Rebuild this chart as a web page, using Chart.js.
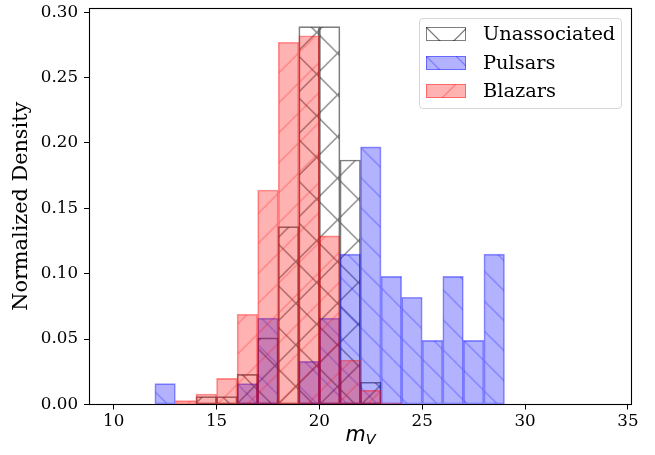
<!DOCTYPE html>
<html>
<head>
<meta charset="utf-8">
<script src="https://cdn.jsdelivr.net/npm/chart.js@4.4.1/dist/chart.umd.min.js"></script>
<style>
  body { margin: 0; background: #fff; }
  #wrap { position: relative; width: 655px; height: 455px; }
  #legend { position: absolute; left: 419px; top: 18px; width: 201px; height: 89px;
            border: 1px solid #d6d6d6; border-radius: 4px; background: rgba(255,255,255,0.8);
            font-family: 'DejaVu Serif', serif; font-size: 19.4px; color: #000; }
  .row { position: absolute; left: 6px; width: 190px; height: 14px; }
  .row canvas { position: absolute; left: 0; top: 0; }
  .row span { position: absolute; left: 57px; top: -5px; line-height: 24px; white-space: nowrap; }
  #xlabel { position: absolute; left: 300px; width: 121px; top: 422px; text-align: center;
            font-family: 'DejaVu Sans', sans-serif; font-style: italic; font-size: 20.8px; line-height: 24px; }
  #xlabel sub { font-size: 14.5px; position: relative; top: 3px; vertical-align: baseline; }
</style>
</head>
<body>
<div id="wrap">
  <canvas id="c" width="655" height="455"></canvas>
  <div id="legend">
    <div class="row" style="top:8px"><canvas id="lg0" width="40" height="14"></canvas><span>Unassociated</span></div>
    <div class="row" style="top:36.5px"><canvas id="lg1" width="40" height="14"></canvas><span>Pulsars</span></div>
    <div class="row" style="top:64.5px"><canvas id="lg2" width="40" height="14"></canvas><span>Blazars</span></div>
  </div>
  <div id="xlabel">m<sub>V</sub></div>
</div>
<script>
// histogram bins (lower edge, width 1 mag)
var binStart = [12, 13, 14, 15, 16, 17, 18, 19, 20, 21, 22, 23, 24, 25, 26, 27, 28];
var unassociated = [null, null, 0.006, 0.006, 0.023, 0.051, 0.136, 0.289, 0.289, 0.187, 0.017, null, null, null, null, null, null];
var pulsars      = [0.016, null, null, null, 0.016, 0.066, null, 0.033, 0.066, 0.115, 0.197, 0.098, 0.082, 0.049, 0.098, 0.049, 0.115];
var blazars      = [null, 0.003, 0.008, 0.020, 0.069, 0.164, 0.277, 0.282, 0.129, 0.034, 0.011, 0.0013, null, null, null, null, null];
var seriesNames  = ['Unassociated', 'Pulsars', 'Blazars'];
var xTicks = [10, 15, 20, 25, 30, 35];
var yTicks = [0, 0.05, 0.10, 0.15, 0.20, 0.25, 0.30];

// hatch tile: kind '/', '\\' or 'x', period p px
function makeHatch(ctx, kind, size, p, fill, line, tx, ty) {
    var c = document.createElement('canvas');
    c.width = size; c.height = size;
    var g = c.getContext('2d');
    if (fill) { g.fillStyle = fill; g.fillRect(0, 0, size, size); }
    g.strokeStyle = line;
    g.lineWidth = 1.3;
    g.beginPath();
    var n = Math.round(size / p);
    for (var k = -n - 1; k <= n + 1; k++) {
        if (kind === '/' || kind === 'x') { g.moveTo(k * p, size); g.lineTo(k * p + size, 0); }
        if (kind === '\\' || kind === 'x') { g.moveTo(k * p, 0); g.lineTo(k * p + size, size); }
    }
    g.stroke();
    var pat = ctx.createPattern(c, 'repeat');
    if (tx || ty) pat.setTransform(new DOMMatrix([1, 0, 0, 1, tx || 0, ty || 0]));
    return pat;
}

var styles = [
    { kind: 'x',  size: 125, p: 125 / 3, fill: null, line: 'rgba(0,0,0,0.5)', edge: 'rgba(0,0,0,0.5)', tx: 25, ty: -9.3 },
    { kind: '\\', size: 30, p: 30, fill: 'rgba(0,0,255,0.3)', line: 'rgba(0,0,255,0.3)', edge: 'rgba(0,0,255,0.42)', tx: 3.3, ty: 0 },
    { kind: '/',  size: 30, p: 30, fill: 'rgba(255,0,0,0.3)', line: 'rgba(255,0,0,0.3)', edge: 'rgba(255,0,0,0.42)', tx: 21.6, ty: 0 }
];

function toPoints(vals) {
    var pts = [];
    binStart.forEach(function (b, i) {
        if (vals[i] !== null) pts.push({ x: b + 0.5, y: vals[i] });
    });
    return pts;
}

var canvas = document.getElementById('c');
var ctx = canvas.getContext('2d');
var allSeries = [unassociated, pulsars, blazars];

var datasets = allSeries.map(function (vals, i) {
    var s = styles[i];
    return {
        label: seriesNames[i],
        data: toPoints(vals),
        backgroundColor: makeHatch(ctx, s.kind, s.size, s.p, s.fill, s.line, s.tx, s.ty),
        borderColor: s.edge,
        borderWidth: 1,
        borderSkipped: false,
        grouped: false,
        barPercentage: 1.0,
        categoryPercentage: 1.0,
        order: 3 - i
    };
});

// legend swatches
styles.forEach(function (s, i) {
    var lc = document.getElementById('lg' + i);
    var lx = lc.getContext('2d');
    lx.fillStyle = makeHatch(lx, s.kind, s.size, s.p, s.fill, s.line, 0, 0);
    lx.fillRect(0, 0, 40, 14);
    lx.strokeStyle = s.edge;
    lx.lineWidth = 1;
    lx.strokeRect(0.5, 0.5, 39, 13);
});

var framePlugin = {
    id: 'frame',
    afterDraw: function (chart) {
        var a = chart.chartArea, g = chart.ctx;
        g.save();
        g.strokeStyle = '#000';
        g.lineWidth = 1.1;
        g.strokeRect(Math.floor(a.left) + 0.5, Math.floor(a.top) + 0.5,
                     Math.floor(a.right) - Math.floor(a.left) - 1, Math.floor(a.bottom) - Math.floor(a.top));
        g.restore();
    }
};

Chart.defaults.font.family = "'DejaVu Serif', serif";
Chart.defaults.font.size = 16.7;
Chart.defaults.color = '#000';

new Chart(ctx, {
    type: 'bar',
    data: { datasets: datasets },
    plugins: [framePlugin],
    options: {
        responsive: false,
        animation: false,
        devicePixelRatio: 1,
        layout: { padding: { left: 0, right: 23, top: 8, bottom: 0 } },
        plugins: { legend: { display: false }, tooltip: { enabled: false } },
        scales: {
            x: {
                type: 'linear',
                min: 8.8,
                max: 35.2,
                offset: false,
                border: { display: false },
                grid: { display: true, drawOnChartArea: false, drawTicks: true, tickLength: 5,
                        color: '#000', tickColor: '#000', tickWidth: 1, offset: false },
                ticks: { padding: 2, color: '#000', maxRotation: 0,
                         callback: function (v) { return String(v); } },
                afterBuildTicks: function (s) { s.ticks = xTicks.map(function (v) { return { value: v }; }); },
                afterFit: function (s) { s.height = 50.5; s.paddingLeft = 0; s.paddingRight = 0; }
            },
            y: {
                min: 0,
                max: 0.3032,
                border: { display: false },
                grid: { display: true, drawOnChartArea: false, drawTicks: true, tickLength: 5,
                        color: '#000', tickColor: '#000', tickWidth: 1 },
                ticks: { padding: 6, color: '#000',
                         callback: function (v) { return v.toFixed(2); } },
                afterBuildTicks: function (s) { s.ticks = yTicks.map(function (v) { return { value: v }; }); },
                afterFit: function (s) { s.width = 89; s.paddingTop = 0; s.paddingBottom = 0; },
                title: { display: true, text: 'Normalized Density', color: '#000',
                         font: { family: "'DejaVu Serif', serif", size: 20.8 },
                         padding: { top: 9, bottom: 0 } }
            }
        }
    }
});
</script>
</body>
</html>
